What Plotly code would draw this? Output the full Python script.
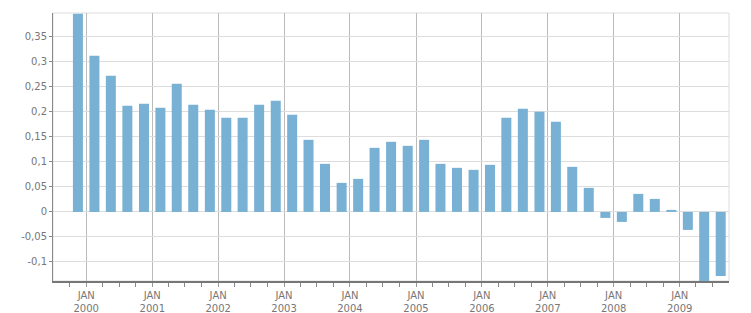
import pandas as pd
import plotly.graph_objects as go

quarters = [
    "1999Q4",
    "2000Q1", "2000Q2", "2000Q3", "2000Q4",
    "2001Q1", "2001Q2", "2001Q3", "2001Q4",
    "2002Q1", "2002Q2", "2002Q3", "2002Q4",
    "2003Q1", "2003Q2", "2003Q3", "2003Q4",
    "2004Q1", "2004Q2", "2004Q3", "2004Q4",
    "2005Q1", "2005Q2", "2005Q3", "2005Q4",
    "2006Q1", "2006Q2", "2006Q3", "2006Q4",
    "2007Q1", "2007Q2", "2007Q3", "2007Q4",
    "2008Q1", "2008Q2", "2008Q3", "2008Q4",
    "2009Q1", "2009Q2", "2009Q3",
]
values = [
    0.396,
    0.312, 0.272, 0.212, 0.216,
    0.208, 0.256, 0.214, 0.204,
    0.188, 0.188, 0.214, 0.222,
    0.194, 0.144, 0.096, 0.058,
    0.066, 0.128, 0.140, 0.132,
    0.144, 0.096, 0.088, 0.084,
    0.094, 0.188, 0.206, 0.200,
    0.180, 0.090, 0.048, -0.012,
    -0.020, 0.036, 0.026, 0.004,
    -0.036, -0.140, -0.128,
]
years = [2000, 2001, 2002, 2003, 2004, 2005, 2006, 2007, 2008, 2009]
y_tickvals = [-0.1, -0.05, 0, 0.05, 0.1, 0.15, 0.2, 0.25, 0.3, 0.35]
y_ticktext = ["-0,1", "-0,05", "0", "0,05", "0,1", "0,15", "0,2", "0,25", "0,3", "0,35"]

# quarter midpoints
x_dates = []
for q in quarters:
    p = pd.Period(q, freq="Q")
    s, e = p.start_time, p.end_time
    x_dates.append(s + (e - s) / 2)

# minor ticks at the quarter boundaries that are not January
minor_vals = [pd.Period(q, freq="Q").start_time for q in quarters
              if not q.endswith("Q1")]

FONT = "DejaVu Sans"
TXT = "#777777"

fig = go.Figure()
fig.add_trace(go.Bar(
    x=x_dates, y=values,
    marker=dict(color="#78b1d3", line=dict(width=0)),
    width=55.4 * 86400000,
))

fig.update_layout(
    width=751, height=313,
    margin=dict(l=53, r=22, t=13, b=32, autoexpand=False),
    paper_bgcolor="white", plot_bgcolor="white",
    showlegend=False,
    font=dict(family=FONT, size=10, color=TXT),
    shapes=[dict(type="rect", xref="paper", yref="paper", x0=0, x1=1, y0=0, y1=1,
                 line=dict(color="#dddddd", width=1), layer="below")],
)
fig.update_xaxes(
    type="date",
    range=["1999-07-01", "2009-10-01"],
    tickvals=[f"{y}-01-01" for y in years],
    ticktext=[f"JAN<br>{y}" for y in years],
    ticks="outside", ticklen=4, tickcolor="#999999", tickwidth=1,
    showgrid=True, gridcolor="#bbbbbb", gridwidth=1,
    showline=True, linecolor="#777777", linewidth=2,
    minor=dict(ticks="outside", ticklen=4, tickcolor="#888888", tickwidth=1,
               tickmode="array", tickvals=minor_vals, showgrid=False),
    tickfont=dict(family=FONT, size=10, color=TXT),
    zeroline=False, automargin=False,
)
fig.update_yaxes(
    range=[-0.138, 0.3973],
    tickvals=y_tickvals, ticktext=y_ticktext,
    ticks="outside", ticklen=3, tickcolor="#888888",
    showgrid=True, gridcolor="#dddddd", gridwidth=1,
    showline=True, linecolor="#888888", linewidth=1,
    zeroline=False, automargin=False,
    tickfont=dict(family=FONT, size=10, color=TXT),
)

fig.write_html("out.html")
